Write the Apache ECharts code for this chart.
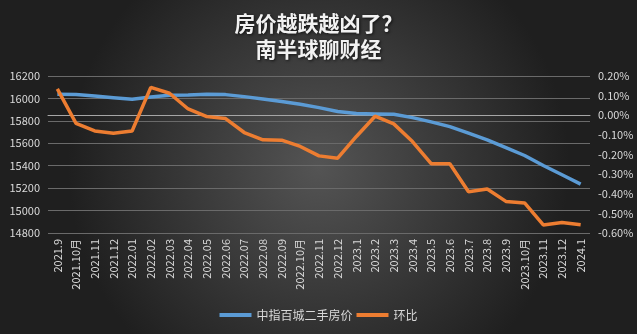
<!DOCTYPE html>
<html><head><meta charset="utf-8">
<script src="https://cdn.jsdelivr.net/npm/echarts@6/dist/echarts.min.js"></script>
<style>html,body{margin:0;padding:0;background:#333}#c{width:637px;height:334px}</style>
</head><body><div id="c"></div>
<script>
const categories = ['2021.9','2021.10月','2021.11','2021.12','2022.01','2022.02','2022.03','2022.04','2022.05','2022.06','2022.07','2022.08','2022.09','2022.10月','2022.11','2022.12','2023.1','2023.2','2023.3','2023.4','2023.5','2023.6','2023.7','2023.8','2023.9','2023.10月','2023.11','2023.12','2024.1'];
const priceValues = [16037,16034,16022,16007,15992,16013,16028,16031,16037,16034,16016,15995,15972,15948,15918,15883,15865,15862,15859,15829,15791,15749,15690,15631,15562,15491,15402,15319,15236];
const momValues = [0.134,-0.041,-0.080,-0.092,-0.080,0.142,0.112,0.032,-0.007,-0.017,-0.088,-0.125,-0.127,-0.159,-0.207,-0.219,-0.108,-0.005,-0.044,-0.134,-0.247,-0.247,-0.390,-0.376,-0.439,-0.447,-0.559,-0.546,-0.558];
const seriesNames = ['中指百城二手房价','环比'];
const titleLines = ['房价越跌越凶了？','南半球聊财经'];

const chart = echarts.init(document.getElementById('c'));
const txt = '#d9d9d9';
const font = '"Noto Sans CJK SC", "Liberation Sans", sans-serif';
chart.setOption({
  backgroundColor: {type:'radial', x:0.5, y:0.5, r:0.75, colorStops:[{offset:0,color:'#545454'},{offset:1,color:'#1f1f1f'}]},
  textStyle: {fontFamily: font},
  title: {text: titleLines.join('\n'), left:'center', top:5,
    textStyle:{color:'#f2f2f2', fontSize:21, fontWeight:'bold', lineHeight:26, fontFamily:font,
      textShadowColor:'rgba(0,0,0,0.7)', textShadowBlur:3, textShadowOffsetX:1, textShadowOffsetY:1}},
  legend: {bottom:8, left:'center', itemWidth:32, itemHeight:4, itemGap:4, icon:'rect',
    textStyle:{color:txt, fontSize:12, fontFamily:font}, data: seriesNames},
  grid: {left:48, right:47, top:76, bottom:101},
  xAxis: {type:'category', data: categories, boundaryGap:true,
    axisLine:{lineStyle:{color:'#a6a6a6', width:1}}, axisTick:{show:false},
    axisLabel:{color:txt, fontSize:11, rotate:90, interval:0, margin:6, fontFamily:font}},
  yAxis: [
    {type:'value', min:14800, max:16200, interval:200,
      axisLine:{show:false}, axisTick:{show:false},
      axisLabel:{color:txt, fontSize:11, margin:8, fontFamily:font, formatter:v=>String(v)},
      splitLine:{lineStyle:{color:'#6a6a6a', width:1}}},
    {type:'value', min:-0.6, max:0.2, interval:0.1,
      axisLine:{show:false}, axisTick:{show:false},
      axisLabel:{color:txt, fontSize:11, margin:8, fontFamily:font, formatter:v=>v.toFixed(2)+'%'},
      splitLine:{show:false}}
  ],
  series: [
    {name:seriesNames[0], type:'line', data:priceValues, yAxisIndex:0, symbol:'none', smooth:false,
      lineStyle:{color:'#5b9bd5', width:3.5}, itemStyle:{color:'#5b9bd5'}},
    {name:seriesNames[1], type:'line', data:momValues, yAxisIndex:1, symbol:'none',
      lineStyle:{color:'#ed7d31', width:3.5}, itemStyle:{color:'#ed7d31'}}
  ],
  animation:false
});
</script></body></html>
